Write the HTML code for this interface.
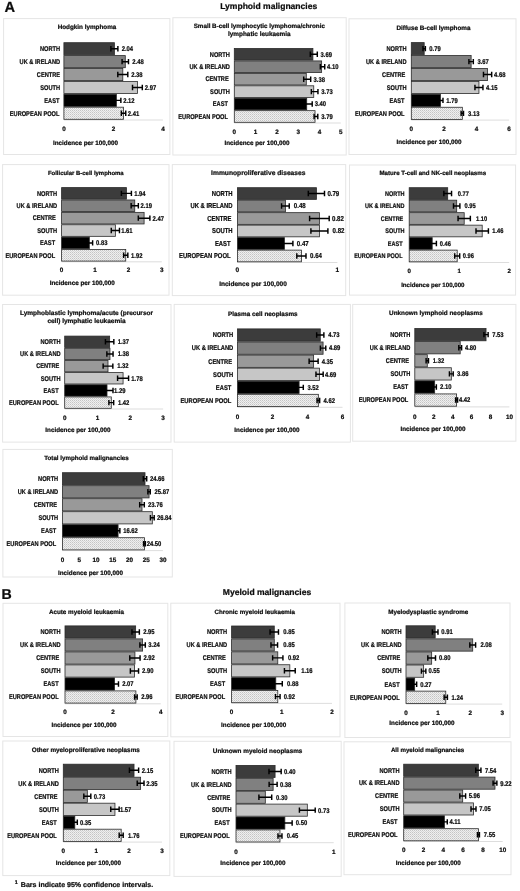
<!DOCTYPE html>
<html><head><meta charset="utf-8"><title>Figure</title>
<style>html,body{margin:0;padding:0;background:#fff;overflow:hidden}svg{display:block;will-change:transform;filter:blur(0.35px)}text{text-rendering:geometricPrecision;font-family:"Liberation Sans",sans-serif;font-weight:bold;fill:#0c0c0c;stroke:#0c0c0c;stroke-width:0.22px;stroke-linejoin:round}</style></head>
<body>
<svg width="520" height="891" viewBox="0 0 520 891">
<defs><pattern id="dots" width="2" height="2" patternUnits="userSpaceOnUse"><rect width="2" height="2" fill="#efefef"/><rect width="1" height="1" fill="#c4c4c4"/><rect x="1" y="1" width="1" height="1" fill="#d6d6d6"/></pattern></defs>
<rect width="520" height="891" fill="#fff"/>
<text x="4.4" y="11.6" font-size="14.7">A</text>
<text x="268.7" y="8.9" font-size="8.55" text-anchor="middle">Lymphoid malignancies</text>
<text x="1.6" y="599.3" font-size="14.2">B</text>
<text x="267" y="595" font-size="8.55" text-anchor="middle">Myeloid malignancies</text>
<text x="14.7" y="884.2" font-size="5.4">1</text>
<text x="20.8" y="886.8" font-size="7.05">Bars indicate 95% confidence intervals.</text>
<g>
<rect x="3.6" y="18.6" width="166.3" height="135.9" fill="#fff" stroke="#e5e5e5" stroke-width="1"/>
<text x="87" y="29" font-size="6.33" text-anchor="middle">Hodgkin lymphoma</text>
<line x1="63.9" y1="120" x2="162.9" y2="120" stroke="#d4d4d4" stroke-width="0.8"/>
<rect x="63.9" y="42.7" width="50.49" height="12.1" fill="#3c3c3c" stroke="#2a2a2a" stroke-width="0.8"/>
<path d="M110.89 48.75H117.89M110.89 46.05V51.45M117.89 46.05V51.45" stroke="#000" stroke-width="1.45" fill="none"/>
<text transform="translate(60.1 51.05) scale(0.82 1)" font-size="6.9" text-anchor="end">NORTH</text>
<text transform="translate(121.7 51.1) scale(0.85 1)" font-size="6.9">2.04</text>
<rect x="63.9" y="55.6" width="61.38" height="12.1" fill="#808080" stroke="#2a2a2a" stroke-width="0.8"/>
<path d="M122.08 61.65H128.48M122.08 58.95V64.35M128.48 58.95V64.35" stroke="#000" stroke-width="1.45" fill="none"/>
<text transform="translate(60.1 63.95) scale(0.82 1)" font-size="6.9" text-anchor="end">UK &amp; IRELAND</text>
<text transform="translate(132.3 64) scale(0.85 1)" font-size="6.9">2.48</text>
<rect x="63.9" y="68.5" width="58.9" height="12.1" fill="#999999" stroke="#2a2a2a" stroke-width="0.8"/>
<path d="M117.8 74.55H127.8M117.8 71.85V77.25M127.8 71.85V77.25" stroke="#000" stroke-width="1.45" fill="none"/>
<text transform="translate(60.1 76.85) scale(0.82 1)" font-size="6.9" text-anchor="end">CENTRE</text>
<text transform="translate(131.2 76.9) scale(0.85 1)" font-size="6.9">2.38</text>
<rect x="63.9" y="81.4" width="73.51" height="12.1" fill="#c6c6c6" stroke="#2a2a2a" stroke-width="0.8"/>
<path d="M132.51 87.45H142.31M132.51 84.75V90.15M142.31 84.75V90.15" stroke="#000" stroke-width="1.45" fill="none"/>
<text transform="translate(60.1 89.75) scale(0.82 1)" font-size="6.9" text-anchor="end">SOUTH</text>
<text transform="translate(144.8 89.8) scale(0.85 1)" font-size="6.9">2.97</text>
<rect x="63.9" y="94.3" width="52.47" height="12.1" fill="#000000" stroke="#2a2a2a" stroke-width="0.8"/>
<path d="M111.87 100.35H120.87M111.87 97.65V103.05M120.87 97.65V103.05" stroke="#000" stroke-width="1.45" fill="none"/>
<text transform="translate(59.4 102.65) scale(0.82 1)" font-size="6.9" text-anchor="end">EAST</text>
<text transform="translate(123.2 102.7) scale(0.85 1)" font-size="6.9">2.12</text>
<rect x="63.9" y="107.2" width="59.65" height="12.1" fill="url(#dots)" stroke="#2a2a2a" stroke-width="0.8"/>
<path d="M121.35 113.25H125.75M121.35 110.55V115.95M125.75 110.55V115.95" stroke="#000" stroke-width="1.45" fill="none"/>
<text transform="translate(59.4 115.55) scale(0.82 1)" font-size="6.9" text-anchor="end">EUROPEAN POOL</text>
<text transform="translate(127.8 115.6) scale(0.85 1)" font-size="6.9">2.41</text>
<text x="63.9" y="131.1" font-size="6.3" text-anchor="middle">0</text>
<text x="113.4" y="131.1" font-size="6.3" text-anchor="middle">2</text>
<text x="162.9" y="131.1" font-size="6.3" text-anchor="middle">4</text>
<text x="85.5" y="145.3" font-size="6.3" text-anchor="middle">Incidence per 100,000</text>
</g>
<g>
<rect x="172.9" y="17.7" width="173.3" height="137.3" fill="#fff" stroke="#e5e5e5" stroke-width="1"/>
<text x="259.3" y="27.9" font-size="6.27" text-anchor="middle">Small B-cell lymphocytic lymphoma/chronic</text>
<text x="259.3" y="36.2" font-size="6.41" text-anchor="middle">lymphatic leukaemia</text>
<line x1="234.3" y1="123" x2="340.8" y2="123" stroke="#d4d4d4" stroke-width="0.8"/>
<rect x="234.3" y="48.5" width="78.6" height="11.63" fill="#3c3c3c" stroke="#2a2a2a" stroke-width="0.8"/>
<path d="M310.3 54.32H317.3M310.3 51.62V57.02M317.3 51.62V57.02" stroke="#000" stroke-width="1.45" fill="none"/>
<text transform="translate(229.9 56.62) scale(0.82 1)" font-size="6.9" text-anchor="end">NORTH</text>
<text transform="translate(320.6 56.67) scale(0.85 1)" font-size="6.9">3.69</text>
<rect x="234.3" y="60.93" width="87.33" height="11.63" fill="#808080" stroke="#2a2a2a" stroke-width="0.8"/>
<path d="M320.33 66.75H324.73M320.33 64.05V69.45M324.73 64.05V69.45" stroke="#000" stroke-width="1.45" fill="none"/>
<text transform="translate(229.9 69.05) scale(0.82 1)" font-size="6.9" text-anchor="end">UK &amp; IRELAND</text>
<text transform="translate(327 69.1) scale(0.85 1)" font-size="6.9">4.10</text>
<rect x="234.3" y="73.37" width="71.99" height="11.63" fill="#999999" stroke="#2a2a2a" stroke-width="0.8"/>
<path d="M303.69 79.18H310.69M303.69 76.48V81.88M310.69 76.48V81.88" stroke="#000" stroke-width="1.45" fill="none"/>
<text transform="translate(228.7 81.48) scale(0.82 1)" font-size="6.9" text-anchor="end">CENTRE</text>
<text transform="translate(313.6 81.53) scale(0.85 1)" font-size="6.9">3.38</text>
<rect x="234.3" y="85.8" width="79.45" height="11.63" fill="#c6c6c6" stroke="#2a2a2a" stroke-width="0.8"/>
<path d="M311.35 91.62H317.95M311.35 88.92V94.32M317.95 88.92V94.32" stroke="#000" stroke-width="1.45" fill="none"/>
<text transform="translate(229.9 93.92) scale(0.82 1)" font-size="6.9" text-anchor="end">SOUTH</text>
<text transform="translate(321.3 93.97) scale(0.85 1)" font-size="6.9">3.73</text>
<rect x="234.3" y="98.23" width="72.42" height="11.63" fill="#000000" stroke="#2a2a2a" stroke-width="0.8"/>
<path d="M303.02 104.05H312.22M303.02 101.35V106.75M312.22 101.35V106.75" stroke="#000" stroke-width="1.45" fill="none"/>
<text transform="translate(227.9 106.35) scale(0.82 1)" font-size="6.9" text-anchor="end">EAST</text>
<text transform="translate(314.7 106.4) scale(0.85 1)" font-size="6.9">3.40</text>
<rect x="234.3" y="110.67" width="80.73" height="11.63" fill="url(#dots)" stroke="#2a2a2a" stroke-width="0.8"/>
<path d="M314.08 116.48H317.78M314.08 113.78V119.18M317.78 113.78V119.18" stroke="#000" stroke-width="1.45" fill="none"/>
<text transform="translate(227.9 118.78) scale(0.82 1)" font-size="6.9" text-anchor="end">EUROPEAN POOL</text>
<text transform="translate(321.3 118.83) scale(0.85 1)" font-size="6.9">3.79</text>
<text x="234.3" y="133.9" font-size="6.3" text-anchor="middle">0</text>
<text x="255.6" y="133.9" font-size="6.3" text-anchor="middle">1</text>
<text x="276.9" y="133.9" font-size="6.3" text-anchor="middle">2</text>
<text x="298.2" y="133.9" font-size="6.3" text-anchor="middle">3</text>
<text x="319.5" y="133.9" font-size="6.3" text-anchor="middle">4</text>
<text x="340.8" y="133.9" font-size="6.3" text-anchor="middle">5</text>
<text x="257" y="145.3" font-size="6.3" text-anchor="middle">Incidence per 100,000</text>
</g>
<g>
<rect x="349" y="18.8" width="167" height="135.7" fill="#fff" stroke="#e5e5e5" stroke-width="1"/>
<text x="433.5" y="29.6" font-size="6.35" text-anchor="middle">Diffuse B-cell lymphoma</text>
<line x1="411.3" y1="120.1" x2="509.1" y2="120.1" stroke="#d4d4d4" stroke-width="0.8"/>
<rect x="411.3" y="42.6" width="12.88" height="12.13" fill="#3c3c3c" stroke="#2a2a2a" stroke-width="0.8"/>
<path d="M422.98 48.67H425.38M422.98 45.97V51.37M425.38 45.97V51.37" stroke="#000" stroke-width="1.45" fill="none"/>
<text transform="translate(406.5 50.97) scale(0.82 1)" font-size="6.9" text-anchor="end">NORTH</text>
<text transform="translate(429.3 51.02) scale(0.85 1)" font-size="6.9">0.79</text>
<rect x="411.3" y="55.53" width="59.82" height="12.13" fill="#808080" stroke="#2a2a2a" stroke-width="0.8"/>
<path d="M468.92 61.6H473.32M468.92 58.9V64.3M473.32 58.9V64.3" stroke="#000" stroke-width="1.45" fill="none"/>
<text transform="translate(406.5 63.9) scale(0.82 1)" font-size="6.9" text-anchor="end">UK &amp; IRELAND</text>
<text transform="translate(477.4 63.95) scale(0.85 1)" font-size="6.9">3.67</text>
<rect x="411.3" y="68.47" width="76.28" height="12.13" fill="#999999" stroke="#2a2a2a" stroke-width="0.8"/>
<path d="M483.48 74.53H491.68M483.48 71.83V77.23M491.68 71.83V77.23" stroke="#000" stroke-width="1.45" fill="none"/>
<text transform="translate(405.3 76.83) scale(0.82 1)" font-size="6.9" text-anchor="end">CENTRE</text>
<text transform="translate(494 76.88) scale(0.85 1)" font-size="6.9">4.68</text>
<rect x="411.3" y="81.4" width="67.65" height="12.13" fill="#c6c6c6" stroke="#2a2a2a" stroke-width="0.8"/>
<path d="M474.95 87.47H482.95M474.95 84.77V90.17M482.95 84.77V90.17" stroke="#000" stroke-width="1.45" fill="none"/>
<text transform="translate(406.5 89.77) scale(0.82 1)" font-size="6.9" text-anchor="end">SOUTH</text>
<text transform="translate(486.1 89.82) scale(0.85 1)" font-size="6.9">4.15</text>
<rect x="411.3" y="94.33" width="29.18" height="12.13" fill="#000000" stroke="#2a2a2a" stroke-width="0.8"/>
<path d="M437.98 100.4H442.98M437.98 97.7V103.1M442.98 97.7V103.1" stroke="#000" stroke-width="1.45" fill="none"/>
<text transform="translate(404.5 102.7) scale(0.82 1)" font-size="6.9" text-anchor="end">EAST</text>
<text transform="translate(446.3 102.75) scale(0.85 1)" font-size="6.9">1.79</text>
<rect x="411.3" y="107.27" width="51.02" height="12.13" fill="url(#dots)" stroke="#2a2a2a" stroke-width="0.8"/>
<path d="M461.12 113.33H463.52M461.12 110.63V116.03M463.52 110.63V116.03" stroke="#000" stroke-width="1.45" fill="none"/>
<text transform="translate(404.5 115.63) scale(0.82 1)" font-size="6.9" text-anchor="end">EUROPEAN POOL</text>
<text transform="translate(468.1 115.68) scale(0.85 1)" font-size="6.9">3.13</text>
<text x="411.3" y="130.7" font-size="6.3" text-anchor="middle">0</text>
<text x="443.9" y="130.7" font-size="6.3" text-anchor="middle">2</text>
<text x="476.5" y="130.7" font-size="6.3" text-anchor="middle">4</text>
<text x="509.1" y="130.7" font-size="6.3" text-anchor="middle">6</text>
<text x="429" y="143.8" font-size="6.3" text-anchor="middle">Incidence per 100,000</text>
</g>
<g>
<rect x="2.6" y="164.6" width="166.4" height="130.6" fill="#fff" stroke="#e5e5e5" stroke-width="1"/>
<text x="85.8" y="175" font-size="5.96" text-anchor="middle">Follicular B-cell lymphoma</text>
<line x1="61.6" y1="261.8" x2="161.8" y2="261.8" stroke="#d4d4d4" stroke-width="0.8"/>
<rect x="61.6" y="187.6" width="64.8" height="11.58" fill="#3c3c3c" stroke="#2a2a2a" stroke-width="0.8"/>
<path d="M121.4 193.39H131.4M121.4 190.69V196.09M131.4 190.69V196.09" stroke="#000" stroke-width="1.45" fill="none"/>
<text transform="translate(57.1 195.69) scale(0.82 1)" font-size="6.9" text-anchor="end">NORTH</text>
<text transform="translate(134.2 195.74) scale(0.85 1)" font-size="6.9">1.94</text>
<rect x="61.6" y="199.98" width="73.15" height="11.58" fill="#808080" stroke="#2a2a2a" stroke-width="0.8"/>
<path d="M131.15 205.77H138.35M131.15 203.07V208.47M138.35 203.07V208.47" stroke="#000" stroke-width="1.45" fill="none"/>
<text transform="translate(57.1 208.07) scale(0.82 1)" font-size="6.9" text-anchor="end">UK &amp; IRELAND</text>
<text transform="translate(140.5 208.12) scale(0.85 1)" font-size="6.9">2.19</text>
<rect x="61.6" y="212.37" width="82.5" height="11.58" fill="#999999" stroke="#2a2a2a" stroke-width="0.8"/>
<path d="M138.3 218.16H149.9M138.3 215.46V220.86M149.9 215.46V220.86" stroke="#000" stroke-width="1.45" fill="none"/>
<text transform="translate(55.9 220.46) scale(0.82 1)" font-size="6.9" text-anchor="end">CENTRE</text>
<text transform="translate(152.5 220.51) scale(0.85 1)" font-size="6.9">2.47</text>
<rect x="61.6" y="224.75" width="53.77" height="11.58" fill="#c6c6c6" stroke="#2a2a2a" stroke-width="0.8"/>
<path d="M111.27 230.54H119.47M111.27 227.84V233.24M119.47 227.84V233.24" stroke="#000" stroke-width="1.45" fill="none"/>
<text transform="translate(57.1 232.84) scale(0.82 1)" font-size="6.9" text-anchor="end">SOUTH</text>
<text transform="translate(121.2 232.89) scale(0.85 1)" font-size="6.9">1.61</text>
<rect x="61.6" y="237.13" width="27.72" height="11.58" fill="#000000" stroke="#2a2a2a" stroke-width="0.8"/>
<path d="M86.02 242.92H92.62M86.02 240.22V245.62M92.62 240.22V245.62" stroke="#000" stroke-width="1.45" fill="none"/>
<text transform="translate(55.1 245.22) scale(0.82 1)" font-size="6.9" text-anchor="end">EAST</text>
<text transform="translate(96 245.27) scale(0.85 1)" font-size="6.9">0.83</text>
<rect x="61.6" y="249.52" width="64.13" height="11.58" fill="url(#dots)" stroke="#2a2a2a" stroke-width="0.8"/>
<path d="M123.63 255.31H127.83M123.63 252.61V258.01M127.83 252.61V258.01" stroke="#000" stroke-width="1.45" fill="none"/>
<text transform="translate(55.1 257.61) scale(0.82 1)" font-size="6.9" text-anchor="end">EUROPEAN POOL</text>
<text transform="translate(131 257.66) scale(0.85 1)" font-size="6.9">1.92</text>
<text x="61.6" y="271.5" font-size="6.3" text-anchor="middle">0</text>
<text x="95" y="271.5" font-size="6.3" text-anchor="middle">1</text>
<text x="128.4" y="271.5" font-size="6.3" text-anchor="middle">2</text>
<text x="161.8" y="271.5" font-size="6.3" text-anchor="middle">3</text>
<text x="82.2" y="284.7" font-size="6.3" text-anchor="middle">Incidence per 100,000</text>
</g>
<g>
<rect x="172.3" y="164.6" width="173.4" height="131" fill="#fff" stroke="#e5e5e5" stroke-width="1"/>
<text x="258.3" y="175" font-size="6.7" text-anchor="middle">Immunoproliferative diseases</text>
<line x1="237.4" y1="262.5" x2="337.4" y2="262.5" stroke="#d4d4d4" stroke-width="0.8"/>
<rect x="237.4" y="187.7" width="79" height="11.68" fill="#3c3c3c" stroke="#2a2a2a" stroke-width="0.8"/>
<path d="M308.3 193.54H324.5M308.3 190.84V196.24M324.5 190.84V196.24" stroke="#000" stroke-width="1.45" fill="none"/>
<text transform="translate(232.6 195.84) scale(0.82 1)" font-size="7.18" text-anchor="end">NORTH</text>
<text transform="translate(327.4 195.89) scale(0.85 1)" font-size="7.18">0.79</text>
<rect x="237.4" y="200.18" width="48" height="11.68" fill="#808080" stroke="#2a2a2a" stroke-width="0.8"/>
<path d="M281.55 206.03H289.25M281.55 203.33V208.72M289.25 203.33V208.72" stroke="#000" stroke-width="1.45" fill="none"/>
<text transform="translate(232.6 208.33) scale(0.82 1)" font-size="7.18" text-anchor="end">UK &amp; IRELAND</text>
<text transform="translate(293.8 208.38) scale(0.85 1)" font-size="7.18">0.48</text>
<rect x="237.4" y="212.67" width="82" height="11.68" fill="#999999" stroke="#2a2a2a" stroke-width="0.8"/>
<path d="M309.6 218.51H329.2M309.6 215.81V221.21M329.2 215.81V221.21" stroke="#000" stroke-width="1.45" fill="none"/>
<text transform="translate(231.4 220.81) scale(0.82 1)" font-size="7.18" text-anchor="end">CENTRE</text>
<text transform="translate(332 220.86) scale(0.85 1)" font-size="7.18">0.82</text>
<rect x="237.4" y="225.15" width="82" height="11.68" fill="#c6c6c6" stroke="#2a2a2a" stroke-width="0.8"/>
<path d="M310.9 230.99H327.9M310.9 228.29V233.69M327.9 228.29V233.69" stroke="#000" stroke-width="1.45" fill="none"/>
<text transform="translate(232.6 233.29) scale(0.82 1)" font-size="7.18" text-anchor="end">SOUTH</text>
<text transform="translate(332.6 233.34) scale(0.85 1)" font-size="7.18">0.82</text>
<rect x="237.4" y="237.63" width="47" height="11.68" fill="#000000" stroke="#2a2a2a" stroke-width="0.8"/>
<path d="M275.9 243.47H292.9M275.9 240.78V246.17M292.9 240.78V246.17" stroke="#000" stroke-width="1.45" fill="none"/>
<text transform="translate(230.6 245.78) scale(0.82 1)" font-size="7.18" text-anchor="end">EAST</text>
<text transform="translate(296.8 245.82) scale(0.85 1)" font-size="7.18">0.47</text>
<rect x="237.4" y="250.12" width="64" height="11.68" fill="url(#dots)" stroke="#2a2a2a" stroke-width="0.8"/>
<path d="M296.8 255.96H306M296.8 253.26V258.66M306 253.26V258.66" stroke="#000" stroke-width="1.45" fill="none"/>
<text transform="translate(230.6 258.26) scale(0.82 1)" font-size="7.18" text-anchor="end">EUROPEAN POOL</text>
<text transform="translate(310.1 258.31) scale(0.85 1)" font-size="7.18">0.64</text>
<text x="237.4" y="271.5" font-size="6.55" text-anchor="middle">0</text>
<text x="337.4" y="271.5" font-size="6.55" text-anchor="middle">1</text>
<text x="253" y="286.1" font-size="6.55" text-anchor="middle">Incidence per 100,000</text>
</g>
<g>
<rect x="349.5" y="165" width="166.1" height="130.1" fill="#fff" stroke="#e5e5e5" stroke-width="1"/>
<text x="432.8" y="175" font-size="6.14" text-anchor="middle">Mature T-cell and NK-cell neoplasms</text>
<line x1="409.2" y1="262.5" x2="509.2" y2="262.5" stroke="#d4d4d4" stroke-width="0.8"/>
<rect x="409.2" y="187.7" width="38.5" height="11.68" fill="#3c3c3c" stroke="#2a2a2a" stroke-width="0.8"/>
<path d="M443.85 193.54H451.55M443.85 190.84V196.24M451.55 190.84V196.24" stroke="#000" stroke-width="1.45" fill="none"/>
<text transform="translate(404.5 195.84) scale(0.82 1)" font-size="6.73" text-anchor="end">NORTH</text>
<text transform="translate(457.7 195.89) scale(0.85 1)" font-size="6.73">0.77</text>
<rect x="409.2" y="200.18" width="47.5" height="11.68" fill="#808080" stroke="#2a2a2a" stroke-width="0.8"/>
<path d="M453.5 206.03H459.9M453.5 203.33V208.72M459.9 203.33V208.72" stroke="#000" stroke-width="1.45" fill="none"/>
<text transform="translate(404.5 208.33) scale(0.82 1)" font-size="6.73" text-anchor="end">UK &amp; IRELAND</text>
<text transform="translate(464.6 208.38) scale(0.85 1)" font-size="6.73">0.95</text>
<rect x="409.2" y="212.67" width="55" height="11.68" fill="#999999" stroke="#2a2a2a" stroke-width="0.8"/>
<path d="M458.05 218.51H470.35M458.05 215.81V221.21M470.35 215.81V221.21" stroke="#000" stroke-width="1.45" fill="none"/>
<text transform="translate(403.3 220.81) scale(0.82 1)" font-size="6.73" text-anchor="end">CENTRE</text>
<text transform="translate(476.1 220.86) scale(0.85 1)" font-size="6.73">1.10</text>
<rect x="409.2" y="225.15" width="73" height="11.68" fill="#c6c6c6" stroke="#2a2a2a" stroke-width="0.8"/>
<path d="M476 230.99H488.4M476 228.29V233.69M488.4 228.29V233.69" stroke="#000" stroke-width="1.45" fill="none"/>
<text transform="translate(404.5 233.29) scale(0.82 1)" font-size="6.73" text-anchor="end">SOUTH</text>
<text transform="translate(492.3 233.34) scale(0.85 1)" font-size="6.73">1.46</text>
<rect x="409.2" y="237.63" width="23" height="11.68" fill="#000000" stroke="#2a2a2a" stroke-width="0.8"/>
<path d="M428 243.47H436.4M428 240.78V246.17M436.4 240.78V246.17" stroke="#000" stroke-width="1.45" fill="none"/>
<text transform="translate(402.5 245.78) scale(0.82 1)" font-size="6.73" text-anchor="end">EAST</text>
<text transform="translate(439.7 245.82) scale(0.85 1)" font-size="6.73">0.46</text>
<rect x="409.2" y="250.12" width="48" height="11.68" fill="url(#dots)" stroke="#2a2a2a" stroke-width="0.8"/>
<path d="M454.7 255.96H459.7M454.7 253.26V258.66M459.7 253.26V258.66" stroke="#000" stroke-width="1.45" fill="none"/>
<text transform="translate(402.5 258.26) scale(0.82 1)" font-size="6.73" text-anchor="end">EUROPEAN POOL</text>
<text transform="translate(462.7 258.31) scale(0.85 1)" font-size="6.73">0.96</text>
<text x="409.2" y="273.3" font-size="6.14" text-anchor="middle">0</text>
<text x="459.2" y="273.3" font-size="6.14" text-anchor="middle">1</text>
<text x="509.2" y="273.3" font-size="6.14" text-anchor="middle">2</text>
<text x="432.8" y="287.1" font-size="6.14" text-anchor="middle">Incidence per 100,000</text>
</g>
<g>
<rect x="2.6" y="304.5" width="168.4" height="137.6" fill="#fff" stroke="#e5e5e5" stroke-width="1"/>
<text x="86.5" y="314.6" font-size="6.51" text-anchor="middle">Lymphoblastic lymphoma/acute (precursor</text>
<text x="86.5" y="323.3" font-size="6.49" text-anchor="middle">cell) lymphatic leukaemia</text>
<line x1="64.7" y1="409" x2="163.1" y2="409" stroke="#d4d4d4" stroke-width="0.8"/>
<rect x="64.7" y="336.1" width="44.94" height="11.37" fill="#3c3c3c" stroke="#2a2a2a" stroke-width="0.8"/>
<path d="M105.44 341.78H113.84M105.44 339.08V344.48M113.84 339.08V344.48" stroke="#000" stroke-width="1.45" fill="none"/>
<text transform="translate(60.6 344.08) scale(0.82 1)" font-size="6.9" text-anchor="end">NORTH</text>
<text transform="translate(117.7 344.13) scale(0.85 1)" font-size="6.9">1.37</text>
<rect x="64.7" y="348.27" width="45.26" height="11.37" fill="#808080" stroke="#2a2a2a" stroke-width="0.8"/>
<path d="M106.86 353.95H113.06M106.86 351.25V356.65M113.06 351.25V356.65" stroke="#000" stroke-width="1.45" fill="none"/>
<text transform="translate(60.6 356.25) scale(0.82 1)" font-size="6.9" text-anchor="end">UK &amp; IRELAND</text>
<text transform="translate(117.7 356.3) scale(0.85 1)" font-size="6.9">1.38</text>
<rect x="64.7" y="360.43" width="43.3" height="11.37" fill="#999999" stroke="#2a2a2a" stroke-width="0.8"/>
<path d="M103.15 366.12H112.85M103.15 363.42V368.82M112.85 363.42V368.82" stroke="#000" stroke-width="1.45" fill="none"/>
<text transform="translate(59.4 368.42) scale(0.82 1)" font-size="6.9" text-anchor="end">CENTRE</text>
<text transform="translate(117.2 368.47) scale(0.85 1)" font-size="6.9">1.32</text>
<rect x="64.7" y="372.6" width="58.38" height="11.37" fill="#c6c6c6" stroke="#2a2a2a" stroke-width="0.8"/>
<path d="M117.58 378.28H128.58M117.58 375.58V380.98M128.58 375.58V380.98" stroke="#000" stroke-width="1.45" fill="none"/>
<text transform="translate(60.6 380.58) scale(0.82 1)" font-size="6.9" text-anchor="end">SOUTH</text>
<text transform="translate(131.3 380.63) scale(0.85 1)" font-size="6.9">1.78</text>
<rect x="64.7" y="384.77" width="42.31" height="11.37" fill="#000000" stroke="#2a2a2a" stroke-width="0.8"/>
<path d="M101.01 390.45H113.01M101.01 387.75V393.15M113.01 387.75V393.15" stroke="#000" stroke-width="1.45" fill="none"/>
<text transform="translate(58.6 392.75) scale(0.82 1)" font-size="6.9" text-anchor="end">EAST</text>
<text transform="translate(114.1 392.8) scale(0.85 1)" font-size="6.9">1.29</text>
<rect x="64.7" y="396.93" width="46.58" height="11.37" fill="url(#dots)" stroke="#2a2a2a" stroke-width="0.8"/>
<path d="M108.88 402.62H113.68M108.88 399.92V405.32M113.68 399.92V405.32" stroke="#000" stroke-width="1.45" fill="none"/>
<text transform="translate(58.6 404.92) scale(0.82 1)" font-size="6.9" text-anchor="end">EUROPEAN POOL</text>
<text transform="translate(117.9 404.97) scale(0.85 1)" font-size="6.9">1.42</text>
<text x="64.7" y="420.2" font-size="6.3" text-anchor="middle">0</text>
<text x="97.5" y="420.2" font-size="6.3" text-anchor="middle">1</text>
<text x="130.3" y="420.2" font-size="6.3" text-anchor="middle">2</text>
<text x="163.1" y="420.2" font-size="6.3" text-anchor="middle">3</text>
<text x="77.9" y="432.3" font-size="6.3" text-anchor="middle">Incidence per 100,000</text>
</g>
<g>
<rect x="174.2" y="304.4" width="176.2" height="137.7" fill="#fff" stroke="#e5e5e5" stroke-width="1"/>
<text x="262.8" y="316" font-size="6.36" text-anchor="middle">Plasma cell neoplasms</text>
<line x1="237.5" y1="407.3" x2="342.5" y2="407.3" stroke="#d4d4d4" stroke-width="0.8"/>
<rect x="237.5" y="328.9" width="82.78" height="12.28" fill="#3c3c3c" stroke="#2a2a2a" stroke-width="0.8"/>
<path d="M316.67 335.04H323.88M316.67 332.34V337.74M323.88 332.34V337.74" stroke="#000" stroke-width="1.45" fill="none"/>
<text transform="translate(233.3 337.34) scale(0.84 1)" font-size="6.9" text-anchor="end">NORTH</text>
<text transform="translate(328.2 337.39) scale(0.85 1)" font-size="6.9">4.73</text>
<rect x="237.5" y="341.98" width="85.57" height="12.28" fill="#808080" stroke="#2a2a2a" stroke-width="0.8"/>
<path d="M320.38 348.12H325.77M320.38 345.43V350.82M325.77 345.43V350.82" stroke="#000" stroke-width="1.45" fill="none"/>
<text transform="translate(233.3 350.43) scale(0.84 1)" font-size="6.9" text-anchor="end">UK &amp; IRELAND</text>
<text transform="translate(328.9 350.48) scale(0.85 1)" font-size="6.9">4.89</text>
<rect x="237.5" y="355.07" width="76.12" height="12.28" fill="#999999" stroke="#2a2a2a" stroke-width="0.8"/>
<path d="M309.12 361.21H318.12M309.12 358.51V363.91M318.12 358.51V363.91" stroke="#000" stroke-width="1.45" fill="none"/>
<text transform="translate(232.1 363.51) scale(0.84 1)" font-size="6.9" text-anchor="end">CENTRE</text>
<text transform="translate(321.7 363.56) scale(0.85 1)" font-size="6.9">4.35</text>
<rect x="237.5" y="368.15" width="82.08" height="12.28" fill="#c6c6c6" stroke="#2a2a2a" stroke-width="0.8"/>
<path d="M315.97 374.29H323.18M315.97 371.59V376.99M323.18 371.59V376.99" stroke="#000" stroke-width="1.45" fill="none"/>
<text transform="translate(233.3 376.59) scale(0.84 1)" font-size="6.9" text-anchor="end">SOUTH</text>
<text transform="translate(324.9 376.64) scale(0.85 1)" font-size="6.9">4.69</text>
<rect x="237.5" y="381.23" width="61.6" height="12.28" fill="#000000" stroke="#2a2a2a" stroke-width="0.8"/>
<path d="M294.9 387.38H303.3M294.9 384.68V390.07M303.3 384.68V390.07" stroke="#000" stroke-width="1.45" fill="none"/>
<text transform="translate(231.3 389.68) scale(0.84 1)" font-size="6.9" text-anchor="end">EAST</text>
<text transform="translate(307.4 389.73) scale(0.85 1)" font-size="6.9">3.52</text>
<rect x="237.5" y="394.32" width="80.85" height="12.28" fill="url(#dots)" stroke="#2a2a2a" stroke-width="0.8"/>
<path d="M317.05 400.46H319.65M317.05 397.76V403.16M319.65 397.76V403.16" stroke="#000" stroke-width="1.45" fill="none"/>
<text transform="translate(231.3 402.76) scale(0.84 1)" font-size="6.9" text-anchor="end">EUROPEAN POOL</text>
<text transform="translate(323.6 402.81) scale(0.85 1)" font-size="6.9">4.62</text>
<text x="237.5" y="418.5" font-size="6.3" text-anchor="middle">0</text>
<text x="272.5" y="418.5" font-size="6.3" text-anchor="middle">2</text>
<text x="307.5" y="418.5" font-size="6.3" text-anchor="middle">4</text>
<text x="342.5" y="418.5" font-size="6.3" text-anchor="middle">6</text>
<text x="266.9" y="432.3" font-size="6.3" text-anchor="middle">Incidence per 100,000</text>
</g>
<g>
<rect x="352.7" y="304.4" width="163.2" height="136.8" fill="#fff" stroke="#e5e5e5" stroke-width="1"/>
<text x="435.9" y="315.3" font-size="6.37" text-anchor="middle">Unknown lymphoid neoplasms</text>
<line x1="414.8" y1="406.9" x2="509.4" y2="406.9" stroke="#d4d4d4" stroke-width="0.8"/>
<rect x="414.8" y="328.5" width="71.23" height="12.28" fill="#3c3c3c" stroke="#2a2a2a" stroke-width="0.8"/>
<path d="M483.93 334.64H488.13M483.93 331.94V337.34M488.13 331.94V337.34" stroke="#000" stroke-width="1.45" fill="none"/>
<text transform="translate(410.3 336.94) scale(0.82 1)" font-size="6.9" text-anchor="end">NORTH</text>
<text transform="translate(492.2 336.99) scale(0.85 1)" font-size="6.9">7.53</text>
<rect x="414.8" y="341.58" width="45.41" height="12.28" fill="#808080" stroke="#2a2a2a" stroke-width="0.8"/>
<path d="M458.81 347.73H461.61M458.81 345.03V350.43M461.61 345.03V350.43" stroke="#000" stroke-width="1.45" fill="none"/>
<text transform="translate(410.3 350.03) scale(0.82 1)" font-size="6.9" text-anchor="end">UK &amp; IRELAND</text>
<text transform="translate(464.9 350.08) scale(0.85 1)" font-size="6.9">4.80</text>
<rect x="414.8" y="354.67" width="12.49" height="12.28" fill="#999999" stroke="#2a2a2a" stroke-width="0.8"/>
<path d="M426.09 360.81H428.49M426.09 358.11V363.51M428.49 358.11V363.51" stroke="#000" stroke-width="1.45" fill="none"/>
<text transform="translate(409.1 363.11) scale(0.82 1)" font-size="6.9" text-anchor="end">CENTRE</text>
<text transform="translate(432.8 363.16) scale(0.85 1)" font-size="6.9">1.32</text>
<rect x="414.8" y="367.75" width="36.52" height="12.28" fill="#c6c6c6" stroke="#2a2a2a" stroke-width="0.8"/>
<path d="M449.42 373.89H453.22M449.42 371.19V376.59M453.22 371.19V376.59" stroke="#000" stroke-width="1.45" fill="none"/>
<text transform="translate(410.3 376.19) scale(0.82 1)" font-size="6.9" text-anchor="end">SOUTH</text>
<text transform="translate(457.1 376.24) scale(0.85 1)" font-size="6.9">3.86</text>
<rect x="414.8" y="380.83" width="19.87" height="12.28" fill="#000000" stroke="#2a2a2a" stroke-width="0.8"/>
<path d="M432.97 386.98H436.37M432.97 384.28V389.68M436.37 384.28V389.68" stroke="#000" stroke-width="1.45" fill="none"/>
<text transform="translate(408.3 389.28) scale(0.82 1)" font-size="6.9" text-anchor="end">EAST</text>
<text transform="translate(440 389.33) scale(0.85 1)" font-size="6.9">2.10</text>
<rect x="414.8" y="393.92" width="41.81" height="12.28" fill="url(#dots)" stroke="#2a2a2a" stroke-width="0.8"/>
<path d="M455.61 400.06H457.61M455.61 397.36V402.76M457.61 397.36V402.76" stroke="#000" stroke-width="1.45" fill="none"/>
<text transform="translate(408.3 402.36) scale(0.82 1)" font-size="6.9" text-anchor="end">EUROPEAN POOL</text>
<text transform="translate(458.9 402.41) scale(0.85 1)" font-size="6.9">4.42</text>
<text x="414.8" y="418.5" font-size="6.3" text-anchor="middle">0</text>
<text x="433.72" y="418.5" font-size="6.3" text-anchor="middle">2</text>
<text x="452.64" y="418.5" font-size="6.3" text-anchor="middle">4</text>
<text x="471.56" y="418.5" font-size="6.3" text-anchor="middle">6</text>
<text x="490.48" y="418.5" font-size="6.3" text-anchor="middle">8</text>
<text x="509.4" y="418.5" font-size="6.3" text-anchor="middle">10</text>
<text x="433" y="430.6" font-size="6.3" text-anchor="middle">Incidence per 100,000</text>
</g>
<g>
<rect x="2.9" y="449.4" width="169.4" height="127.6" fill="#fff" stroke="#e5e5e5" stroke-width="1"/>
<text x="86.5" y="459.6" font-size="6.19" text-anchor="middle">Total lymphoid malignancies</text>
<line x1="62.4" y1="550.6" x2="162.9" y2="550.6" stroke="#d4d4d4" stroke-width="0.8"/>
<rect x="62.4" y="472.7" width="82.61" height="12.2" fill="#3c3c3c" stroke="#2a2a2a" stroke-width="0.8"/>
<path d="M143.31 478.8H146.71M143.31 476.1V481.5M146.71 476.1V481.5" stroke="#000" stroke-width="1.45" fill="none"/>
<text transform="translate(58.2 481.1) scale(0.82 1)" font-size="6.9" text-anchor="end">NORTH</text>
<text transform="translate(149.9 481.15) scale(0.85 1)" font-size="6.9">24.66</text>
<rect x="62.4" y="485.7" width="86.66" height="12.2" fill="#808080" stroke="#2a2a2a" stroke-width="0.8"/>
<path d="M147.86 491.8H150.26M147.86 489.1V494.5M150.26 489.1V494.5" stroke="#000" stroke-width="1.45" fill="none"/>
<text transform="translate(58.2 494.1) scale(0.82 1)" font-size="6.9" text-anchor="end">UK &amp; IRELAND</text>
<text transform="translate(154.5 494.15) scale(0.85 1)" font-size="6.9">25.87</text>
<rect x="62.4" y="498.7" width="79.6" height="12.2" fill="#999999" stroke="#2a2a2a" stroke-width="0.8"/>
<path d="M139.7 504.8H144.3M139.7 502.1V507.5M144.3 502.1V507.5" stroke="#000" stroke-width="1.45" fill="none"/>
<text transform="translate(57 507.1) scale(0.82 1)" font-size="6.9" text-anchor="end">CENTRE</text>
<text transform="translate(148 507.15) scale(0.85 1)" font-size="6.9">23.76</text>
<rect x="62.4" y="511.7" width="89.91" height="12.2" fill="#c6c6c6" stroke="#2a2a2a" stroke-width="0.8"/>
<path d="M150.41 517.8H154.21M150.41 515.1V520.5M154.21 515.1V520.5" stroke="#000" stroke-width="1.45" fill="none"/>
<text transform="translate(58.2 520.1) scale(0.82 1)" font-size="6.9" text-anchor="end">SOUTH</text>
<text transform="translate(156.9 520.15) scale(0.85 1)" font-size="6.9">26.84</text>
<rect x="62.4" y="524.7" width="55.68" height="12.2" fill="#000000" stroke="#2a2a2a" stroke-width="0.8"/>
<path d="M116.28 530.8H119.88M116.28 528.1V533.5M119.88 528.1V533.5" stroke="#000" stroke-width="1.45" fill="none"/>
<text transform="translate(56.2 533.1) scale(0.82 1)" font-size="6.9" text-anchor="end">EAST</text>
<text transform="translate(123.2 533.15) scale(0.85 1)" font-size="6.9">16.62</text>
<rect x="62.4" y="537.7" width="82.08" height="12.2" fill="url(#dots)" stroke="#2a2a2a" stroke-width="0.8"/>
<path d="M143.57 543.8H145.38M143.57 541.1V546.5M145.38 541.1V546.5" stroke="#000" stroke-width="1.45" fill="none"/>
<text transform="translate(56.2 546.1) scale(0.82 1)" font-size="6.9" text-anchor="end">EUROPEAN POOL</text>
<text transform="translate(146.7 546.15) scale(0.85 1)" font-size="6.9">24.50</text>
<text x="62.4" y="561.7" font-size="6.3" text-anchor="middle">0</text>
<text x="79.15" y="561.7" font-size="6.3" text-anchor="middle">5</text>
<text x="95.9" y="561.7" font-size="6.3" text-anchor="middle">10</text>
<text x="112.65" y="561.7" font-size="6.3" text-anchor="middle">15</text>
<text x="129.4" y="561.7" font-size="6.3" text-anchor="middle">20</text>
<text x="146.15" y="561.7" font-size="6.3" text-anchor="middle">25</text>
<text x="162.9" y="561.7" font-size="6.3" text-anchor="middle">30</text>
<text x="90.5" y="574.5" font-size="6.3" text-anchor="middle">Incidence per 100,000</text>
</g>
<g>
<rect x="3" y="603.3" width="164.8" height="133.2" fill="#fff" stroke="#e5e5e5" stroke-width="1"/>
<text x="86.5" y="614.3" font-size="6.3" text-anchor="middle">Acute myeloid leukaemia</text>
<line x1="65" y1="703.8" x2="160.8" y2="703.8" stroke="#d4d4d4" stroke-width="0.8"/>
<rect x="65" y="625.9" width="70.65" height="12.2" fill="#3c3c3c" stroke="#2a2a2a" stroke-width="0.8"/>
<path d="M131.95 632H139.35M131.95 629.3V634.7M139.35 629.3V634.7" stroke="#000" stroke-width="1.45" fill="none"/>
<text transform="translate(60.6 634.3) scale(0.82 1)" font-size="6.9" text-anchor="end">NORTH</text>
<text transform="translate(143.2 634.35) scale(0.85 1)" font-size="6.9">2.95</text>
<rect x="65" y="638.9" width="77.6" height="12.2" fill="#808080" stroke="#2a2a2a" stroke-width="0.8"/>
<path d="M139.9 645H145.3M139.9 642.3V647.7M145.3 642.3V647.7" stroke="#000" stroke-width="1.45" fill="none"/>
<text transform="translate(60.6 647.3) scale(0.82 1)" font-size="6.9" text-anchor="end">UK &amp; IRELAND</text>
<text transform="translate(148.3 647.35) scale(0.85 1)" font-size="6.9">3.24</text>
<rect x="65" y="651.9" width="69.93" height="12.2" fill="#999999" stroke="#2a2a2a" stroke-width="0.8"/>
<path d="M129.78 658H140.08M129.78 655.3V660.7M140.08 655.3V660.7" stroke="#000" stroke-width="1.45" fill="none"/>
<text transform="translate(59.4 660.3) scale(0.82 1)" font-size="6.9" text-anchor="end">CENTRE</text>
<text transform="translate(143.4 660.35) scale(0.85 1)" font-size="6.9">2.92</text>
<rect x="65" y="664.9" width="69.45" height="12.2" fill="#c6c6c6" stroke="#2a2a2a" stroke-width="0.8"/>
<path d="M130.35 671H138.55M130.35 668.3V673.7M138.55 668.3V673.7" stroke="#000" stroke-width="1.45" fill="none"/>
<text transform="translate(60.6 673.3) scale(0.82 1)" font-size="6.9" text-anchor="end">SOUTH</text>
<text transform="translate(142.1 673.35) scale(0.85 1)" font-size="6.9">2.90</text>
<rect x="65" y="677.9" width="49.58" height="12.2" fill="#000000" stroke="#2a2a2a" stroke-width="0.8"/>
<path d="M110.68 684H118.48M110.68 681.3V686.7M118.48 681.3V686.7" stroke="#000" stroke-width="1.45" fill="none"/>
<text transform="translate(58.6 686.3) scale(0.82 1)" font-size="6.9" text-anchor="end">EAST</text>
<text transform="translate(122.2 686.35) scale(0.85 1)" font-size="6.9">2.07</text>
<rect x="65" y="690.9" width="70.89" height="12.2" fill="url(#dots)" stroke="#2a2a2a" stroke-width="0.8"/>
<path d="M134.59 697H137.19M134.59 694.3V699.7M137.19 694.3V699.7" stroke="#000" stroke-width="1.45" fill="none"/>
<text transform="translate(58.6 699.3) scale(0.82 1)" font-size="6.9" text-anchor="end">EUROPEAN POOL</text>
<text transform="translate(141.2 699.35) scale(0.85 1)" font-size="6.9">2.96</text>
<text x="65" y="713.8" font-size="6.3" text-anchor="middle">0</text>
<text x="112.9" y="713.8" font-size="6.3" text-anchor="middle">2</text>
<text x="160.8" y="713.8" font-size="6.3" text-anchor="middle">4</text>
<text x="84" y="727" font-size="6.3" text-anchor="middle">Incidence per 100,000</text>
</g>
<g>
<rect x="170.8" y="603.2" width="169.2" height="133.6" fill="#fff" stroke="#e5e5e5" stroke-width="1"/>
<text x="254.8" y="614.1" font-size="6.23" text-anchor="middle">Chronic myeloid leukaemia</text>
<line x1="231.6" y1="703.4" x2="332" y2="703.4" stroke="#d4d4d4" stroke-width="0.8"/>
<rect x="231.6" y="626" width="42.67" height="12.12" fill="#3c3c3c" stroke="#2a2a2a" stroke-width="0.8"/>
<path d="M270.07 632.06H278.47M270.07 629.36V634.76M278.47 629.36V634.76" stroke="#000" stroke-width="1.45" fill="none"/>
<text transform="translate(227.1 634.36) scale(0.82 1)" font-size="6.9" text-anchor="end">NORTH</text>
<text transform="translate(283.3 634.41) scale(0.85 1)" font-size="6.9">0.85</text>
<rect x="231.6" y="638.92" width="42.67" height="12.12" fill="#808080" stroke="#2a2a2a" stroke-width="0.8"/>
<path d="M270.97 644.98H277.57M270.97 642.27V647.68M277.57 642.27V647.68" stroke="#000" stroke-width="1.45" fill="none"/>
<text transform="translate(227.1 647.27) scale(0.82 1)" font-size="6.9" text-anchor="end">UK &amp; IRELAND</text>
<text transform="translate(283.3 647.33) scale(0.85 1)" font-size="6.9">0.85</text>
<rect x="231.6" y="651.83" width="46.18" height="12.12" fill="#999999" stroke="#2a2a2a" stroke-width="0.8"/>
<path d="M272.63 657.89H282.93M272.63 655.19V660.59M282.93 655.19V660.59" stroke="#000" stroke-width="1.45" fill="none"/>
<text transform="translate(225.9 660.19) scale(0.82 1)" font-size="6.9" text-anchor="end">CENTRE</text>
<text transform="translate(287.9 660.24) scale(0.85 1)" font-size="6.9">0.92</text>
<rect x="231.6" y="664.75" width="58.23" height="12.12" fill="#c6c6c6" stroke="#2a2a2a" stroke-width="0.8"/>
<path d="M284.43 670.81H295.23M284.43 668.11V673.51M295.23 668.11V673.51" stroke="#000" stroke-width="1.45" fill="none"/>
<text transform="translate(227.1 673.11) scale(0.82 1)" font-size="6.9" text-anchor="end">SOUTH</text>
<text transform="translate(301.2 673.16) scale(0.85 1)" font-size="6.9">1.16</text>
<rect x="231.6" y="677.67" width="44.18" height="12.12" fill="#000000" stroke="#2a2a2a" stroke-width="0.8"/>
<path d="M269.28 683.73H282.28M269.28 681.02V686.43M282.28 681.02V686.43" stroke="#000" stroke-width="1.45" fill="none"/>
<text transform="translate(225.1 686.02) scale(0.82 1)" font-size="6.9" text-anchor="end">EAST</text>
<text transform="translate(287 686.08) scale(0.85 1)" font-size="6.9">0.88</text>
<rect x="231.6" y="690.58" width="46.18" height="12.12" fill="url(#dots)" stroke="#2a2a2a" stroke-width="0.8"/>
<path d="M275.48 696.64H280.08M275.48 693.94V699.34M280.08 693.94V699.34" stroke="#000" stroke-width="1.45" fill="none"/>
<text transform="translate(225.1 698.94) scale(0.82 1)" font-size="6.9" text-anchor="end">EUROPEAN POOL</text>
<text transform="translate(283.7 698.99) scale(0.85 1)" font-size="6.9">0.92</text>
<text x="231.6" y="713.8" font-size="6.3" text-anchor="middle">0</text>
<text x="281.8" y="713.8" font-size="6.3" text-anchor="middle">1</text>
<text x="332" y="713.8" font-size="6.3" text-anchor="middle">2</text>
<text x="253.6" y="727" font-size="6.3" text-anchor="middle">Incidence per 100,000</text>
</g>
<g>
<rect x="344.9" y="603" width="165.1" height="134.5" fill="#fff" stroke="#e5e5e5" stroke-width="1"/>
<text x="428.3" y="613.5" font-size="6.26" text-anchor="middle">Myelodysplastic syndrome</text>
<line x1="406" y1="704.1" x2="502.21" y2="704.1" stroke="#d4d4d4" stroke-width="0.8"/>
<rect x="406" y="625.8" width="29.18" height="12.27" fill="#3c3c3c" stroke="#2a2a2a" stroke-width="0.8"/>
<path d="M432.38 631.93H437.98M432.38 629.23V634.63M437.98 629.23V634.63" stroke="#000" stroke-width="1.45" fill="none"/>
<text transform="translate(401.6 634.23) scale(0.82 1)" font-size="6.9" text-anchor="end">NORTH</text>
<text transform="translate(441.3 634.28) scale(0.85 1)" font-size="6.9">0.91</text>
<rect x="406" y="638.87" width="66.71" height="12.27" fill="#808080" stroke="#2a2a2a" stroke-width="0.8"/>
<path d="M469.81 645H475.61M469.81 642.3V647.7M475.61 642.3V647.7" stroke="#000" stroke-width="1.45" fill="none"/>
<text transform="translate(401.6 647.3) scale(0.82 1)" font-size="6.9" text-anchor="end">UK &amp; IRELAND</text>
<text transform="translate(480.4 647.35) scale(0.85 1)" font-size="6.9">2.08</text>
<rect x="406" y="651.93" width="25.66" height="12.27" fill="#999999" stroke="#2a2a2a" stroke-width="0.8"/>
<path d="M427.81 658.07H435.51M427.81 655.37V660.77M435.51 655.37V660.77" stroke="#000" stroke-width="1.45" fill="none"/>
<text transform="translate(400.4 660.37) scale(0.82 1)" font-size="6.9" text-anchor="end">CENTRE</text>
<text transform="translate(439 660.42) scale(0.85 1)" font-size="6.9">0.80</text>
<rect x="406" y="665" width="17.64" height="12.27" fill="#c6c6c6" stroke="#2a2a2a" stroke-width="0.8"/>
<path d="M421.44 671.13H425.84M421.44 668.43V673.83M425.84 668.43V673.83" stroke="#000" stroke-width="1.45" fill="none"/>
<text transform="translate(401.6 673.43) scale(0.82 1)" font-size="6.9" text-anchor="end">SOUTH</text>
<text transform="translate(428.4 673.48) scale(0.85 1)" font-size="6.9">0.55</text>
<rect x="406" y="678.07" width="8.66" height="12.27" fill="#000000" stroke="#2a2a2a" stroke-width="0.8"/>
<path d="M412.66 684.2H416.66M412.66 681.5V686.9M416.66 681.5V686.9" stroke="#000" stroke-width="1.45" fill="none"/>
<text transform="translate(399.6 686.5) scale(0.82 1)" font-size="6.9" text-anchor="end">EAST</text>
<text transform="translate(420.2 686.55) scale(0.85 1)" font-size="6.9">0.27</text>
<rect x="406" y="691.13" width="39.77" height="12.27" fill="url(#dots)" stroke="#2a2a2a" stroke-width="0.8"/>
<path d="M444.12 697.27H447.42M444.12 694.57V699.97M447.42 694.57V699.97" stroke="#000" stroke-width="1.45" fill="none"/>
<text transform="translate(399.6 699.57) scale(0.82 1)" font-size="6.9" text-anchor="end">EUROPEAN POOL</text>
<text transform="translate(451.6 699.62) scale(0.85 1)" font-size="6.9">1.24</text>
<text x="406" y="714.9" font-size="6.3" text-anchor="middle">0</text>
<text x="438.07" y="714.9" font-size="6.3" text-anchor="middle">1</text>
<text x="470.14" y="714.9" font-size="6.3" text-anchor="middle">2</text>
<text x="502.21" y="714.9" font-size="6.3" text-anchor="middle">3</text>
<text x="421.9" y="725.3" font-size="6.3" text-anchor="middle">Incidence per 100,000</text>
</g>
<g>
<rect x="2.8" y="741" width="167" height="134.6" fill="#fff" stroke="#e5e5e5" stroke-width="1"/>
<text x="85.8" y="751.5" font-size="6.34" text-anchor="middle">Other myeloproliferative neoplasms</text>
<line x1="63.3" y1="842.1" x2="162" y2="842.1" stroke="#d4d4d4" stroke-width="0.8"/>
<rect x="63.3" y="764.2" width="70.73" height="12.2" fill="#3c3c3c" stroke="#2a2a2a" stroke-width="0.8"/>
<path d="M129.44 770.3H138.63M129.44 767.6V773M138.63 767.6V773" stroke="#000" stroke-width="1.45" fill="none"/>
<text transform="translate(58.8 772.6) scale(0.82 1)" font-size="6.9" text-anchor="end">NORTH</text>
<text transform="translate(141.8 772.65) scale(0.85 1)" font-size="6.9">2.15</text>
<rect x="63.3" y="777.2" width="77.31" height="12.2" fill="#808080" stroke="#2a2a2a" stroke-width="0.8"/>
<path d="M137.22 783.3H144.02M137.22 780.6V786M144.02 780.6V786" stroke="#000" stroke-width="1.45" fill="none"/>
<text transform="translate(58.8 785.6) scale(0.82 1)" font-size="6.9" text-anchor="end">UK &amp; IRELAND</text>
<text transform="translate(146.2 785.65) scale(0.85 1)" font-size="6.9">2.35</text>
<rect x="63.3" y="790.2" width="24.02" height="12.2" fill="#999999" stroke="#2a2a2a" stroke-width="0.8"/>
<path d="M83.82 796.3H90.82M83.82 793.6V799M90.82 793.6V799" stroke="#000" stroke-width="1.45" fill="none"/>
<text transform="translate(57.6 798.6) scale(0.82 1)" font-size="6.9" text-anchor="end">CENTRE</text>
<text transform="translate(93.8 798.65) scale(0.85 1)" font-size="6.9">0.73</text>
<rect x="63.3" y="803.2" width="51.65" height="12.2" fill="#c6c6c6" stroke="#2a2a2a" stroke-width="0.8"/>
<path d="M110.75 809.3H119.15M110.75 806.6V812M119.15 806.6V812" stroke="#000" stroke-width="1.45" fill="none"/>
<text transform="translate(58.8 811.6) scale(0.82 1)" font-size="6.9" text-anchor="end">SOUTH</text>
<text transform="translate(119.9 811.65) scale(0.85 1)" font-size="6.9">1.57</text>
<rect x="63.3" y="816.2" width="11.51" height="12.2" fill="#000000" stroke="#2a2a2a" stroke-width="0.8"/>
<path d="M72.31 822.3H77.31M72.31 819.6V825M77.31 819.6V825" stroke="#000" stroke-width="1.45" fill="none"/>
<text transform="translate(56.8 824.6) scale(0.82 1)" font-size="6.9" text-anchor="end">EAST</text>
<text transform="translate(79.9 824.65) scale(0.85 1)" font-size="6.9">0.35</text>
<rect x="63.3" y="829.2" width="57.9" height="12.2" fill="url(#dots)" stroke="#2a2a2a" stroke-width="0.8"/>
<path d="M119.2 835.3H123.2M119.2 832.6V838M123.2 832.6V838" stroke="#000" stroke-width="1.45" fill="none"/>
<text transform="translate(56.8 837.6) scale(0.82 1)" font-size="6.9" text-anchor="end">EUROPEAN POOL</text>
<text transform="translate(128.1 837.65) scale(0.85 1)" font-size="6.9">1.76</text>
<text x="63.3" y="852.9" font-size="6.3" text-anchor="middle">0</text>
<text x="96.2" y="852.9" font-size="6.3" text-anchor="middle">1</text>
<text x="129.1" y="852.9" font-size="6.3" text-anchor="middle">2</text>
<text x="162" y="852.9" font-size="6.3" text-anchor="middle">3</text>
<text x="88.4" y="865.1" font-size="6.3" text-anchor="middle">Incidence per 100,000</text>
</g>
<g>
<rect x="174" y="741.3" width="167.2" height="135.1" fill="#fff" stroke="#e5e5e5" stroke-width="1"/>
<text x="257.6" y="752.6" font-size="6.38" text-anchor="middle">Unknown myeloid neoplasms</text>
<line x1="236" y1="842.7" x2="333.7" y2="842.7" stroke="#d4d4d4" stroke-width="0.8"/>
<rect x="236" y="765.4" width="39.08" height="12.1" fill="#3c3c3c" stroke="#2a2a2a" stroke-width="0.8"/>
<path d="M268.98 771.45H281.18M268.98 768.75V774.15M281.18 768.75V774.15" stroke="#000" stroke-width="1.45" fill="none"/>
<text transform="translate(231.6 773.75) scale(0.82 1)" font-size="6.9" text-anchor="end">NORTH</text>
<text transform="translate(284 773.8) scale(0.85 1)" font-size="6.9">0.40</text>
<rect x="236" y="778.3" width="37.13" height="12.1" fill="#808080" stroke="#2a2a2a" stroke-width="0.8"/>
<path d="M269.13 784.35H277.13M269.13 781.65V787.05M277.13 781.65V787.05" stroke="#000" stroke-width="1.45" fill="none"/>
<text transform="translate(231.6 786.65) scale(0.82 1)" font-size="6.9" text-anchor="end">UK &amp; IRELAND</text>
<text transform="translate(279.9 786.7) scale(0.85 1)" font-size="6.9">0.38</text>
<rect x="236" y="791.2" width="29.31" height="12.1" fill="#999999" stroke="#2a2a2a" stroke-width="0.8"/>
<path d="M258.91 797.25H271.71M258.91 794.55V799.95M271.71 794.55V799.95" stroke="#000" stroke-width="1.45" fill="none"/>
<text transform="translate(230.4 799.55) scale(0.82 1)" font-size="6.9" text-anchor="end">CENTRE</text>
<text transform="translate(276 799.6) scale(0.85 1)" font-size="6.9">0.30</text>
<rect x="236" y="804.1" width="71.32" height="12.1" fill="#c6c6c6" stroke="#2a2a2a" stroke-width="0.8"/>
<path d="M299.42 810.15H315.22M299.42 807.45V812.85M315.22 807.45V812.85" stroke="#000" stroke-width="1.45" fill="none"/>
<text transform="translate(231.6 812.45) scale(0.82 1)" font-size="6.9" text-anchor="end">SOUTH</text>
<text transform="translate(318 812.5) scale(0.85 1)" font-size="6.9">0.73</text>
<rect x="236" y="817" width="48.85" height="12.1" fill="#000000" stroke="#2a2a2a" stroke-width="0.8"/>
<path d="M277.55 823.05H292.15M277.55 820.35V825.75M292.15 820.35V825.75" stroke="#000" stroke-width="1.45" fill="none"/>
<text transform="translate(229.6 825.35) scale(0.82 1)" font-size="6.9" text-anchor="end">EAST</text>
<text transform="translate(295.8 825.4) scale(0.85 1)" font-size="6.9">0.50</text>
<rect x="236" y="829.9" width="43.97" height="12.1" fill="url(#dots)" stroke="#2a2a2a" stroke-width="0.8"/>
<path d="M277.97 835.95H281.97M277.97 833.25V838.65M281.97 833.25V838.65" stroke="#000" stroke-width="1.45" fill="none"/>
<text transform="translate(229.6 838.25) scale(0.82 1)" font-size="6.9" text-anchor="end">EUROPEAN POOL</text>
<text transform="translate(286.8 838.3) scale(0.85 1)" font-size="6.9">0.45</text>
<text x="236" y="853.6" font-size="6.3" text-anchor="middle">0</text>
<text x="333.7" y="853.6" font-size="6.3" text-anchor="middle">1</text>
<text x="252.9" y="865.1" font-size="6.3" text-anchor="middle">Incidence per 100,000</text>
</g>
<g>
<rect x="344" y="741.8" width="167" height="132.9" fill="#fff" stroke="#e5e5e5" stroke-width="1"/>
<text x="427.6" y="751.5" font-size="6.15" text-anchor="middle">All myeloid malignancies</text>
<line x1="403.7" y1="841.5" x2="502.7" y2="841.5" stroke="#d4d4d4" stroke-width="0.8"/>
<rect x="403.7" y="764.2" width="74.65" height="12.1" fill="#3c3c3c" stroke="#2a2a2a" stroke-width="0.8"/>
<path d="M475.75 770.25H480.95M475.75 767.55V772.95M480.95 767.55V772.95" stroke="#000" stroke-width="1.45" fill="none"/>
<text transform="translate(399.5 772.55) scale(0.82 1)" font-size="6.9" text-anchor="end">NORTH</text>
<text transform="translate(484.9 772.6) scale(0.85 1)" font-size="6.9">7.54</text>
<rect x="403.7" y="777.1" width="91.28" height="12.1" fill="#808080" stroke="#2a2a2a" stroke-width="0.8"/>
<path d="M493.08 783.15H496.88M493.08 780.45V785.85M496.88 780.45V785.85" stroke="#000" stroke-width="1.45" fill="none"/>
<text transform="translate(399.5 785.45) scale(0.82 1)" font-size="6.9" text-anchor="end">UK &amp; IRELAND</text>
<text transform="translate(500.2 785.5) scale(0.85 1)" font-size="6.9">9.22</text>
<rect x="403.7" y="790" width="59" height="12.1" fill="#999999" stroke="#2a2a2a" stroke-width="0.8"/>
<path d="M459.8 796.05H465.6M459.8 793.35V798.75M465.6 793.35V798.75" stroke="#000" stroke-width="1.45" fill="none"/>
<text transform="translate(398.3 798.35) scale(0.82 1)" font-size="6.9" text-anchor="end">CENTRE</text>
<text transform="translate(468.7 798.4) scale(0.85 1)" font-size="6.9">5.96</text>
<rect x="403.7" y="802.9" width="69.8" height="12.1" fill="#c6c6c6" stroke="#2a2a2a" stroke-width="0.8"/>
<path d="M471 808.95H476M471 806.25V811.65M476 806.25V811.65" stroke="#000" stroke-width="1.45" fill="none"/>
<text transform="translate(399.5 811.25) scale(0.82 1)" font-size="6.9" text-anchor="end">SOUTH</text>
<text transform="translate(479.3 811.3) scale(0.85 1)" font-size="6.9">7.05</text>
<rect x="403.7" y="815.8" width="40.69" height="12.1" fill="#000000" stroke="#2a2a2a" stroke-width="0.8"/>
<path d="M441.49 821.85H447.29M441.49 819.15V824.55M447.29 819.15V824.55" stroke="#000" stroke-width="1.45" fill="none"/>
<text transform="translate(397.5 824.15) scale(0.82 1)" font-size="6.9" text-anchor="end">EAST</text>
<text transform="translate(449.4 824.2) scale(0.85 1)" font-size="6.9">4.11</text>
<rect x="403.7" y="828.7" width="74.75" height="12.1" fill="url(#dots)" stroke="#2a2a2a" stroke-width="0.8"/>
<path d="M477.44 834.75H479.44M477.44 832.05V837.45M479.44 832.05V837.45" stroke="#000" stroke-width="1.45" fill="none"/>
<text transform="translate(397.5 837.05) scale(0.82 1)" font-size="6.9" text-anchor="end">EUROPEAN POOL</text>
<text transform="translate(483.8 837.1) scale(0.85 1)" font-size="6.9">7.55</text>
<text x="403.7" y="851.9" font-size="6.3" text-anchor="middle">0</text>
<text x="423.5" y="851.9" font-size="6.3" text-anchor="middle">2</text>
<text x="443.3" y="851.9" font-size="6.3" text-anchor="middle">4</text>
<text x="463.1" y="851.9" font-size="6.3" text-anchor="middle">6</text>
<text x="482.9" y="851.9" font-size="6.3" text-anchor="middle">8</text>
<text x="502.7" y="851.9" font-size="6.3" text-anchor="middle">10</text>
<text x="428.3" y="865.1" font-size="6.3" text-anchor="middle">Incidence per 100,000</text>
</g>
</svg></body></html>
